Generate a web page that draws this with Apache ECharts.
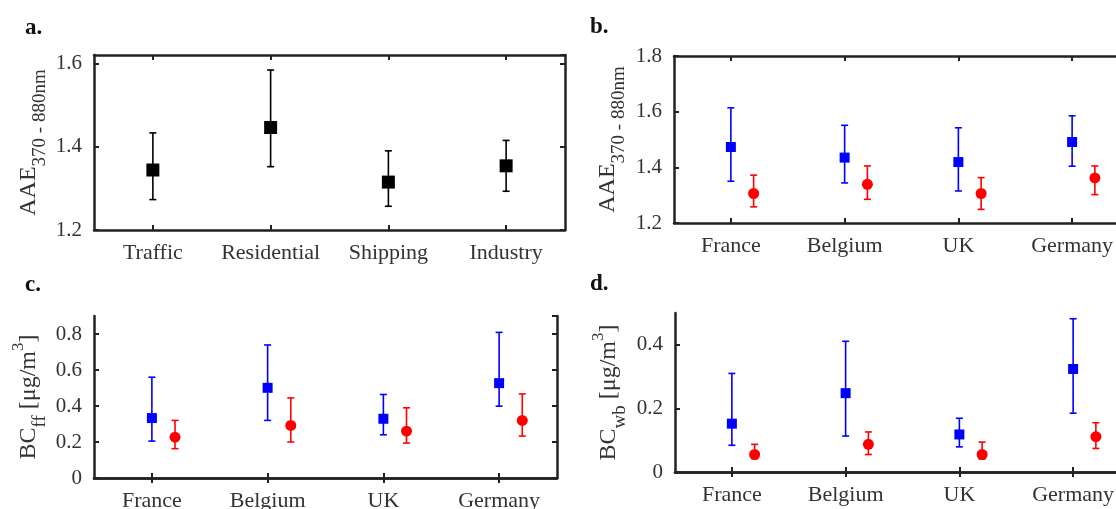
<!DOCTYPE html>
<html>
<head>
<meta charset="utf-8">
<script src="https://cdn.jsdelivr.net/npm/echarts@6/dist/echarts.min.js"></script>
<style>html,body{margin:0;padding:0;background:#fff}#c{width:1116px;height:509px}</style>
</head>
<body>
<div id="c"></div>
<script>
// ---------- data ----------
const sources = ['Traffic', 'Residential', 'Shipping', 'Industry'];
const countries = ['France', 'Belgium', 'UK', 'Germany'];

// panel a: AAE by source (black)
const aMean = [1.344, 1.446, 1.315, 1.354];
const aLow  = [1.273, 1.352, 1.257, 1.293];
const aHigh = [1.433, 1.584, 1.390, 1.415];

// panel b: AAE by country (blue, red)
const bBlueMean = [1.473, 1.435, 1.419, 1.491];
const bBlueLow  = [1.350, 1.344, 1.315, 1.404];
const bBlueHigh = [1.614, 1.551, 1.542, 1.585];
const bRedMean  = [1.306, 1.339, 1.306, 1.362];
const bRedLow   = [1.258, 1.285, 1.249, 1.302];
const bRedHigh  = [1.372, 1.405, 1.363, 1.405];

// panel c: BC_ff
const cBlueMean = [0.333, 0.501, 0.329, 0.527];
const cBlueLow  = [0.205, 0.320, 0.240, 0.399];
const cBlueHigh = [0.560, 0.739, 0.464, 0.809];
const cRedMean  = [0.227, 0.292, 0.260, 0.320];
const cRedLow   = [0.163, 0.200, 0.194, 0.233];
const cRedHigh  = [0.320, 0.445, 0.390, 0.467];

// panel d: BC_wb
const dBlueMean = [0.152, 0.248, 0.118, 0.324];
const dBlueLow  = [0.084, 0.113, 0.079, 0.185];
const dBlueHigh = [0.310, 0.411, 0.169, 0.482];
const dRedMean  = [0.055, 0.087, 0.055, 0.111];
const dRedLow   = [0.042, 0.055, 0.041, 0.074];
const dRedHigh  = [0.087, 0.126, 0.094, 0.155];

// ---------- style ----------
const FONT = "'Liberation Serif', 'Times New Roman', serif";
const TXT = '#333';
const AX = '#222';
const BLUE = '#0000ff', RED = '#ff0000', BLACK = '#000000';
const RED_SHIFT = 0.2;

const grids = [
  {left: 94,  top: 55,  width: 471, height: 175},
  {left: 674, top: 56,  width: 455, height: 167},
  {left: 94,  top: 316, width: 463, height: 162},
  {left: 675, top: 313, width: 455, height: 159}
];
const yConf = [
  {min: 1.2, max: 1.62, interval: 0.2},
  {min: 1.2, max: 1.8, interval: 0.2},
  {min: 0, max: 0.9, interval: 0.2},
  {min: 0, max: 0.5, interval: 0.2}
];
const yNames = [
  '{m|AAE}{s|370 - 880nm}',
  '{m|AAE}{s|370 - 880nm}',
  '{m|BC}{s|ff}{m| [μg/m}{p|3}{m|]}',
  '{m|BC}{s|wb}{m| [μg/m}{p|3}{m|]}'
];
const nameGaps = [29, 30, 29, 30];
const cats = [sources, countries, countries, countries];

const rich = {
  m: {fontSize: 24, fontFamily: FONT, color: TXT, height: 26, lineHeight: 26, verticalAlign: 'top'},
  s: {fontSize: 19, fontFamily: FONT, color: TXT, height: 49, lineHeight: 49, verticalAlign: 'top'},
  p: {fontSize: 17, fontFamily: FONT, color: TXT, height: 6, lineHeight: 6, verticalAlign: 'top'}
};

const xAxes = [], yAxes = [];
grids.forEach((g, i) => {
  const lineStyle = {color: AX, width: 2.5};
  const tick = {show: true, inside: true, length: 5, alignWithLabel: true, lineStyle: {color: AX, width: 2}};
  xAxes.push({gridIndex: i, type: 'category', position: 'bottom', data: cats[i], boundaryGap: true,
    axisLine: {show: true, lineStyle}, axisTick: tick,
    axisLabel: {interval: 0, hideOverlap: false, fontFamily: FONT, fontSize: 22, color: TXT, margin: 12},
    splitLine: {show: false}});
  xAxes.push({gridIndex: i, type: 'category', position: 'top', data: cats[i], boundaryGap: true,
    axisLine: {show: true, lineStyle}, axisTick: tick, axisLabel: {show: false}, splitLine: {show: false}});
  xAxes.push({gridIndex: i, type: 'value', min: 0.5, max: 4.5, show: false});
  const yc = yConf[i];
  const ytick = {show: true, inside: true, length: 5, lineStyle: {color: AX, width: 2}};
  yAxes.push({gridIndex: i, type: 'value', position: 'left', min: yc.min, max: yc.max, interval: yc.interval,
    axisLine: {show: true, lineStyle}, axisTick: ytick, splitLine: {show: false},
    axisLabel: {fontFamily: FONT, fontSize: 21, color: TXT, margin: 12, showMaxLabel: i === 1, hideOverlap: false},
    name: yNames[i], nameLocation: 'middle', nameRotate: 90, nameGap: nameGaps[i], nameMoveOverlap: false,
    nameTextStyle: {rich}});
  yAxes.push({gridIndex: i, type: 'value', position: 'right', min: yc.min, max: yc.max, interval: yc.interval,
    axisLine: {show: true, lineStyle}, axisTick: ytick, splitLine: {show: false}, axisLabel: {show: false}});
});

function errSeries(panel, means, lows, highs, shift, color, cap, lw) {
  const data = means.map((m, k) => [k + 1 + shift, lows[k], highs[k]]);
  return {
    type: 'custom', xAxisIndex: panel * 3 + 2, yAxisIndex: panel * 2, z: 2, clip: false,
    encode: {x: 0, y: [1, 2]},
    renderItem: function (params, api) {
      const x = api.value(0);
      const lo = api.coord([x, api.value(1)]);
      const hi = api.coord([x, api.value(2)]);
      const st = {stroke: color, lineWidth: lw};
      return {type: 'group', children: [
        {type: 'line', shape: {x1: lo[0], y1: lo[1], x2: hi[0], y2: hi[1]}, style: st},
        {type: 'line', shape: {x1: lo[0] - cap, y1: lo[1], x2: lo[0] + cap, y2: lo[1]}, style: st},
        {type: 'line', shape: {x1: hi[0] - cap, y1: hi[1], x2: hi[0] + cap, y2: hi[1]}, style: st}
      ]};
    },
    data
  };
}
function markSeries(panel, means, shift, color, symbol, size) {
  return {
    type: 'scatter', xAxisIndex: panel * 3 + 2, yAxisIndex: panel * 2, z: 3,
    symbol, symbolSize: size, itemStyle: {color, opacity: 1},
    data: means.map((m, k) => [k + 1 + shift, m])
  };
}

const series = [
  errSeries(0, aMean, aLow, aHigh, 0, BLACK, 3.5, 1.6),
  markSeries(0, aMean, 0, BLACK, 'rect', 13),

  errSeries(1, bBlueMean, bBlueLow, bBlueHigh, 0, BLUE, 3.5, 1.6),
  markSeries(1, bBlueMean, 0, BLUE, 'rect', 10),
  errSeries(1, bRedMean, bRedLow, bRedHigh, RED_SHIFT, RED, 3.5, 1.6),
  markSeries(1, bRedMean, RED_SHIFT, RED, 'circle', 11),

  errSeries(2, cBlueMean, cBlueLow, cBlueHigh, 0, BLUE, 3.5, 1.6),
  markSeries(2, cBlueMean, 0, BLUE, 'rect', 10),
  errSeries(2, cRedMean, cRedLow, cRedHigh, RED_SHIFT, RED, 3.5, 1.6),
  markSeries(2, cRedMean, RED_SHIFT, RED, 'circle', 11),

  errSeries(3, dBlueMean, dBlueLow, dBlueHigh, 0, BLUE, 3.5, 1.6),
  markSeries(3, dBlueMean, 0, BLUE, 'rect', 10),
  errSeries(3, dRedMean, dRedLow, dRedHigh, RED_SHIFT, RED, 3.5, 1.6),
  markSeries(3, dRedMean, RED_SHIFT, RED, 'circle', 11)
];

const panelLabels = [
  {t: 'a.', x: 25, y: 38},
  {t: 'b.', x: 590, y: 37},
  {t: 'c.', x: 25, y: 295},
  {t: 'd.', x: 590, y: 294}
];

const chart = echarts.init(document.getElementById('c'), null, {renderer: 'canvas'});
chart.setOption({
  backgroundColor: '#fff',
  animation: false,
  grid: grids.map(g => Object.assign({containLabel: false, outerBoundsMode: 'none'}, g)),
  xAxis: xAxes,
  yAxis: yAxes,
  series,
  graphic: panelLabels.map(p => ({
    type: 'text', left: p.x, top: p.y - 21, z: 10,
    style: {text: p.t, fontFamily: FONT, fontSize: 23, fontWeight: 'bold', fill: '#111'}
  }))
});
</script>
</body>
</html>
